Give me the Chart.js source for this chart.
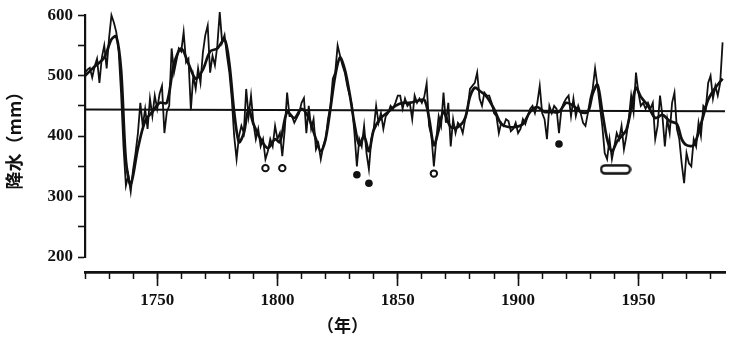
<!DOCTYPE html>
<html>
<head>
<meta charset="utf-8">
<script src="https://cdn.jsdelivr.net/npm/chart.js@4/dist/chart.umd.min.js"></script>
<style>
  html, body { margin: 0; padding: 0; background: #fff; }
  #wrap { width: 736px; height: 340px; }
</style>
</head>
<body>
<div id="wrap"><canvas id="chart" width="736" height="340"></canvas></div>
<script>
// annual precipitation (mm), one value per year starting at startYear
const startYear = 1720;
const annualPrecip = [
  505, 510, 513, 497, 515, 528, 488, 530, 550, 512,   // 1720s
  562, 600, 588, 572, 540, 470, 383, 318, 335, 308,   // 1730s
  345, 372, 405, 455, 417, 445, 412, 462, 433, 467,   // 1740s
  445, 470, 483, 405, 440, 450, 545, 505, 525, 545,   // 1750s
  540, 572, 522, 528, 443, 500, 478, 512, 488, 538,   // 1760s
  567, 583, 505, 533, 517, 550, 605, 555, 567, 533,   // 1770s
  505, 462, 400, 362, 400, 417, 405, 478, 433, 467,   // 1780s
  422, 395, 412, 383, 395, 362, 375, 395, 383, 417,   // 1790s
  395, 405, 367, 410, 472, 433, 433, 422, 430, 438,   // 1800s
  455, 463, 405, 450, 412, 428, 378, 388, 362, 383,   // 1810s
  395, 428, 450, 495, 505, 550, 533, 517, 505, 483,   // 1820s
  467, 450, 405, 350, 395, 383, 417, 372, 345, 395,   // 1830s
  412, 450, 422, 438, 412, 433, 438, 450, 445, 455,   // 1840s
  467, 467, 445, 462, 450, 455, 428, 467, 455, 462,   // 1850s
  455, 465, 487, 417, 400, 350, 395, 433, 417, 472,   // 1860s
  422, 455, 383, 428, 405, 422, 417, 405, 428, 445,   // 1870s
  478, 483, 488, 505, 462, 450, 472, 467, 467, 455,   // 1880s
  438, 433, 405, 422, 417, 428, 425, 408, 412, 422,   // 1890s
  405, 412, 428, 420, 433, 445, 450, 438, 455, 483,   // 1900s
  438, 428, 395, 450, 438, 450, 445, 405, 445, 455,   // 1910s
  462, 467, 433, 462, 433, 450, 438, 422, 417, 438,   // 1920s
  462, 478, 512, 483, 450, 417, 372, 362, 395, 362,   // 1930s
  383, 405, 395, 417, 378, 400, 428, 467, 440, 505,   // 1940s
  472, 450, 455, 445, 455, 445, 455, 395, 417, 467,   // 1950s
  433, 383, 428, 405, 455, 472, 412, 395, 355, 322,   // 1960s
  372, 355, 350, 395, 383, 422, 400, 450, 445, 488,   // 1970s
  500, 462, 483, 467, 488, 555                        // 1980s
];

// smoothed curve
const smoothYears = [1720, 1724, 1728, 1731, 1733, 1735, 1737, 1739, 1742, 1745, 1748, 1751, 1754, 1757, 1760,
  1763, 1766, 1769, 1772, 1775, 1778, 1780, 1782, 1784, 1786, 1788, 1790, 1793, 1796, 1799, 1801, 1804, 1807,
  1810, 1813, 1816, 1818, 1820, 1822, 1824, 1826, 1828, 1830, 1832, 1834, 1836, 1838, 1840, 1843, 1846, 1849,
  1852, 1855, 1858, 1861, 1863, 1865, 1867, 1869, 1872, 1875, 1878, 1880, 1882, 1884, 1887, 1890, 1893, 1896,
  1899, 1902, 1905, 1908, 1911, 1914, 1917, 1920, 1923, 1926, 1929, 1931, 1933, 1935, 1937, 1939, 1941, 1943,
  1945, 1947, 1949, 1951, 1954, 1957, 1960, 1963, 1966, 1968, 1970, 1973, 1976, 1979, 1982, 1985];
const smoothPrecip = [500, 515, 530, 560, 565, 510, 360, 320, 380, 425, 440, 455, 455, 520, 545,
  520, 495, 510, 540, 545, 560, 520, 440, 390, 405, 445, 420, 395, 380, 395, 390, 440, 430,
  445, 430, 395, 375, 395, 445, 500, 530, 510, 470, 420, 385, 400, 375, 410, 430, 440, 450,
  455, 455, 458, 460, 430, 385, 410, 440, 415, 415, 430, 465, 480, 475, 465, 445, 420, 415,
  415, 420, 440, 448, 440, 440, 440, 455, 450, 440, 440, 470, 485, 440, 395, 375, 390, 400,
  410, 445, 480, 465, 450, 430, 435, 425, 420, 395, 385, 385, 420, 460, 480, 495];

// long-term mean
const meanYears = [1720, 1986];
const meanPrecip = [444, 441];

// dry-year markers
const openYears = [1795, 1802, 1865];
const openPrecip = [347, 347, 338];
const dotYears = [1833, 1838, 1917];
const dotPrecip = [336, 322, 387];
const ovalYears = [1940.5];
const ovalPrecip = [345];

const yTicks = [200, 250, 300, 350, 400, 450, 500, 550, 600];
const xMajorTicks = [1750, 1800, 1850, 1900, 1950];
const xMinorTicks = [1720, 1730, 1740, 1750, 1760, 1770, 1780, 1790, 1800, 1810, 1820, 1830, 1840, 1850,
  1860, 1870, 1880, 1890, 1900, 1910, 1920, 1930, 1940, 1950, 1960, 1970, 1980];

const ink = '#111';
const pts = (xs, ys) => xs.map((x, i) => ({ x: x, y: ys[i] }));

// stadium-shaped marker
const oval = document.createElement('canvas');
oval.width = 32; oval.height = 11;
(function () {
  const c = oval.getContext('2d');
  c.strokeStyle = ink; c.lineWidth = 2.4;
  c.beginPath();
  c.roundRect(1.5, 1.5, 29, 8, 4);
  c.stroke();
})();

const xTitle = {
  id: 'xTitle',
  afterDraw(chart) {
    const c = chart.ctx;
    c.save();
    c.fillStyle = ink;
    c.font = 'bold 17px "Noto Sans CJK SC"';
    c.textAlign = 'center';
    c.textBaseline = 'middle';
    c.fillText('（年）', chart.scales.x.getPixelForValue(1827), 326);
    c.restore();
  }
};

const axisX = (extra) => Object.assign({
  type: 'linear', position: 'bottom', min: 1720, max: 1986
}, extra);

new Chart(document.getElementById('chart'), {
  type: 'line',
  data: {
    datasets: [
      {
        data: pts(annualPrecip.map((v, i) => startYear + i), annualPrecip),
        borderColor: ink, borderWidth: 1.8, pointRadius: 0, tension: 0, clip: false
      },
      {
        data: pts(smoothYears, smoothPrecip),
        borderColor: ink, borderWidth: 2.7, pointRadius: 0, tension: 0.3, clip: false
      },
      {
        data: pts(meanYears, meanPrecip),
        borderColor: ink, borderWidth: 2, pointRadius: 0
      },
      {
        data: pts(openYears, openPrecip), showLine: false,
        pointStyle: 'circle', pointRadius: 3.2, pointBorderWidth: 2,
        pointBorderColor: ink, pointBackgroundColor: '#fff'
      },
      {
        data: pts(dotYears, dotPrecip), showLine: false,
        pointStyle: 'circle', pointRadius: 3.8, pointBorderWidth: 0,
        pointBackgroundColor: ink
      },
      {
        data: pts(ovalYears, ovalPrecip), showLine: false,
        pointStyle: oval, pointRadius: 10
      }
    ]
  },
  options: {
    responsive: false,
    animation: false,
    layout: { padding: { top: 15, right: 0, left: 0, bottom: 0 } },
    plugins: { legend: { display: false }, tooltip: { enabled: false } },
    scales: {
      gap: axisX({
        weight: 0,
        grid: { display: false }, border: { display: false }, ticks: { display: false },
        afterFit(s) { s.height = 15; }
      }),
      xm: axisX({
        weight: 1,
        grid: { drawOnChartArea: false, tickLength: 7, tickWidth: 1.5, tickColor: ink },
        border: { display: false },
        ticks: { display: false },
        afterBuildTicks(s) { s.ticks = xMinorTicks.map(v => ({ value: v })); },
        afterFit(s) { s.height = 0; }
      }),
      x: axisX({
        weight: 2,
        grid: { drawOnChartArea: false, tickLength: 14, tickWidth: 1.6, tickColor: ink },
        border: { display: true, color: ink, width: 2.8 },
        ticks: {
          color: ink, padding: 4, maxRotation: 0,
          font: { family: '"Liberation Serif"', size: 17, weight: 'bold' },
          callback: v => String(v)
        },
        afterBuildTicks(s) { s.ticks = xMajorTicks.map(v => ({ value: v })); },
        afterFit(s) { s.height = 68; }
      }),
      y: {
        type: 'linear', min: 200, max: 600,
        grid: { drawOnChartArea: false, tickLength: 7, tickWidth: 1.6, tickColor: ink },
        border: { display: true, color: ink, width: 2.2 },
        ticks: {
          color: ink, padding: 5,
          font: { family: '"Liberation Serif"', size: 17, weight: 'bold' },
          callback: v => (v % 100 === 0 ? String(v) : '')
        },
        afterBuildTicks(s) { s.ticks = yTicks.map(v => ({ value: v })); },
        afterFit(s) { s.width = 85; },
        title: {
          display: true, text: '降水（mm）', color: ink,
          font: { family: '"Noto Sans CJK SC"', size: 18, weight: 'bold' },
          padding: { top: 3, bottom: 0 }
        }
      }
    }
  },
  plugins: [xTitle]
});
</script>
</body>
</html>
